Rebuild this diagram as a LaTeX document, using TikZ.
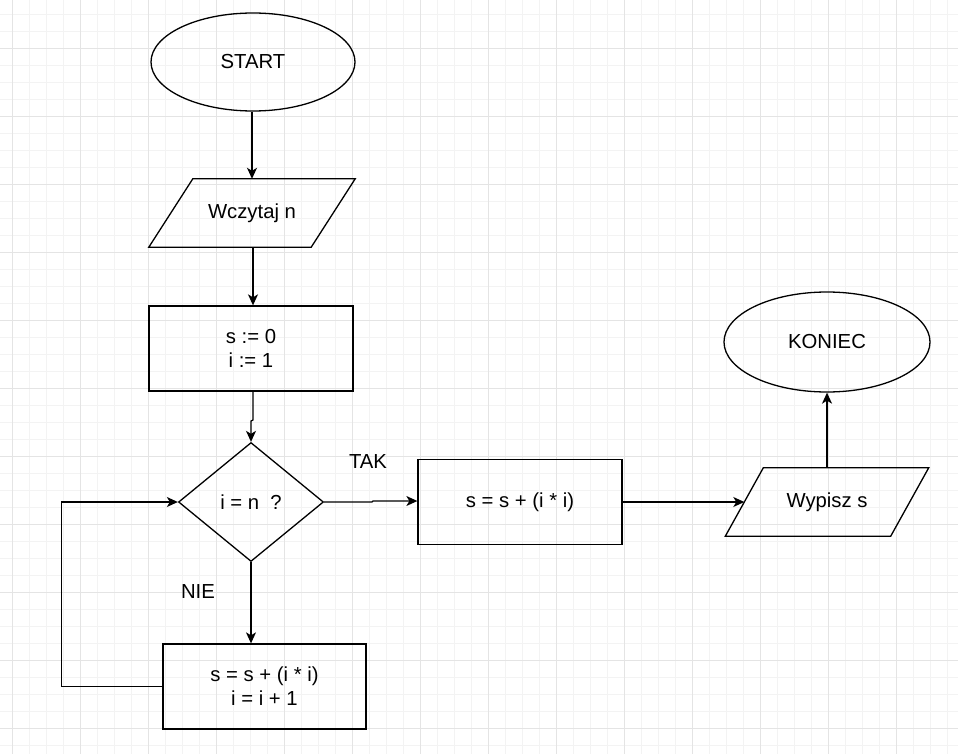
\documentclass[tikz,border=0pt]{standalone}
\usepackage{fontspec}
\setmainfont{Liberation Sans}
\usetikzlibrary{shapes.geometric,arrows.meta}
\definecolor{gridminor}{HTML}{F3F3F3}
\definecolor{gridmajor}{HTML}{E4E4E4}
\tikzset{
  txt/.style={font=\fontsize{20.3}{24}\selectfont},
  box/.style={txt, draw, line width=1.3pt, rectangle, minimum width=204pt, minimum height=85pt, align=center},
  oval/.style={txt, draw, line width=1.3pt, ellipse, minimum width=204pt, minimum height=98pt},
  io/.style={txt, rectangle, minimum height=68pt, inner sep=0pt},
  decision/.style={txt, draw, line width=1.3pt, diamond, minimum width=145pt, minimum height=119pt, inner sep=0pt},
  outline/.style={draw, line width=1.3pt},
  arr/.style={line width=1.3pt, -{Stealth[length=11pt,width=10pt,inset=3pt]}},
  lbl/.style={txt},
}
\begin{document}
\begin{tikzpicture}[x=1pt,y=-1pt]
\useasboundingbox (0,0) rectangle (958,754);
\fill[white] (0,0) rectangle (958,754);
% grid
\foreach \i in {0,...,57} { \draw[gridminor, line width=0.8pt] ({-5+17*\i},0) -- ({-5+17*\i},754); }
\foreach \i in {0,...,45} { \draw[gridminor, line width=0.8pt] (0,{-2.7+17*\i}) -- (958,{-2.7+17*\i}); }
\foreach \i in {0,...,14} { \draw[gridmajor, line width=0.9pt] ({12+68*\i},0) -- ({12+68*\i},754); }
\foreach \i in {0,...,11} { \draw[gridmajor, line width=0.9pt] (0,{48.3+68*\i}) -- (958,{48.3+68*\i}); }

% nodes
\node[oval] (start) at (253,62) {START};
\node[io, minimum width=162pt] (read) at (252,213) {Wczytaj n};
\draw[outline] ([xshift=22pt]read.north west) -- ([xshift=22pt]read.north east) -- ([xshift=-22pt]read.south east) -- ([xshift=-22pt]read.south west) -- cycle;
\node[box] (init) at (251,348.5) {s := 0\\i := 1};
\node[decision] (dec) at (251,502) {i = n\ \ ?};
\node[box] (sum) at (520,502) {s = s + (i * i)};
\node[io, minimum width=165pt] (write) at (827,502) {Wypisz s};
\draw[outline] ([xshift=19pt]write.north west) -- ([xshift=19pt]write.north east) -- ([xshift=-19pt]write.south east) -- ([xshift=-19pt]write.south west) -- cycle;
\node[oval, minimum width=206pt, minimum height=100pt] (end) at (827,342) {KONIEC};
\node[box, minimum width=203pt] (loop) at (264.5,686.5) {s = s + (i * i)\\i = i + 1};

\node[lbl] (tak) at (368,462) {TAK};
\node[lbl] (nie) at (198,592) {NIE};

% connectors
\draw[arr] (start.south -| read) -- (read.north);
\draw[arr] (read.south -| 253,0) -- (init.north -| 253,0);
\draw[arr] (init.south -| 253,0) -- (253,420) -- (251,421) -- (dec.north);
\draw[arr] (dec.east) -- (372,502) -- (373,501) -- (sum.west |- 0,501);
\draw[arr] (sum.east) -- (write.west);
\draw[arr] (write.north) -- (end.south);
\draw[arr] (dec.south) -- (dec.south |- loop.north);
\draw[arr] (loop.west) -- ++(-101,0) |- (dec.west);
\end{tikzpicture}
\end{document}
